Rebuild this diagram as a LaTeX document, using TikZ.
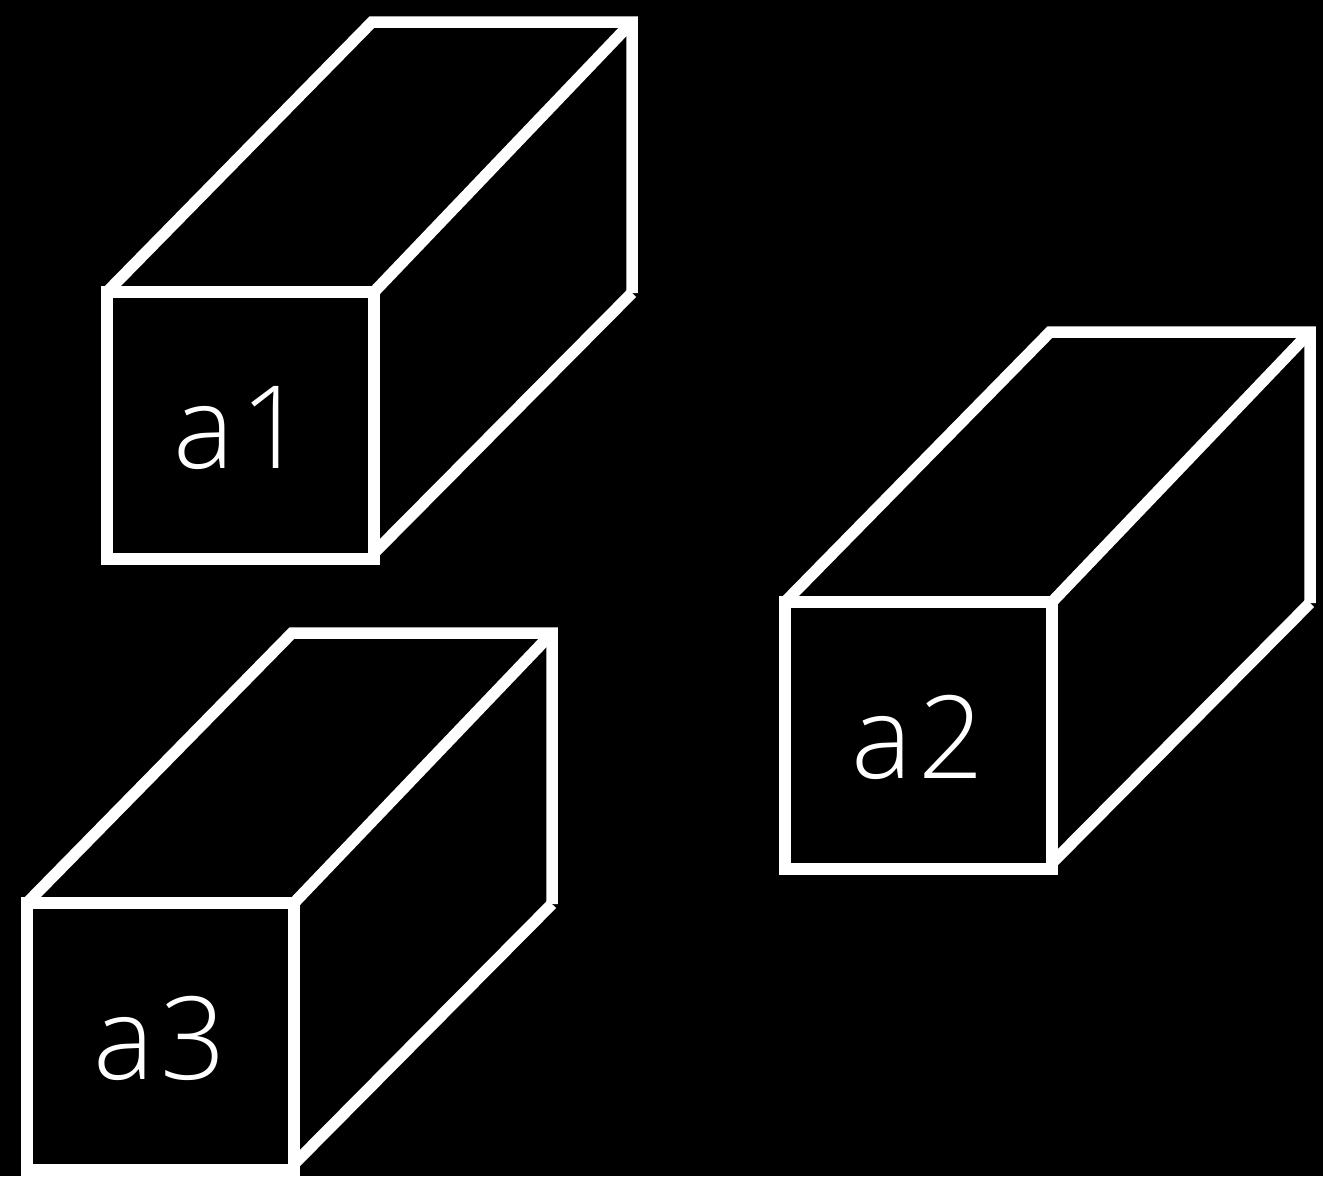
\documentclass[tikz,border=0pt]{standalone}
\usepackage{fontspec}
\IfFontExistsTF{Open Sans Light}{\newfontfamily\labfont[LetterSpace=5]{Open Sans Light}}{%
   \newfontfamily\labfont[LetterSpace=5]{Open Sans}}
\tikzset{
  edge/.style={draw=white, line width=11.5pt, line cap=butt, line join=miter},
  boxlabel/.style={text=white, inner sep=0pt, anchor=base, font=\labfont\fontsize{115}{120}\selectfont}
}
\newcommand\cuboidbox[4]{%
  \begin{scope}[shift={(#2,#3)}]
    \coordinate (#1ftl) at (0,0);
    \coordinate (#1ftr) at (267,0);
    \coordinate (#1fbr) at (267,267);
    \coordinate (#1fbl) at (0,267);
    \coordinate (#1btl) at (265,-270);
    \coordinate (#1btr) at (525,-270);
    \coordinate (#1bbr) at (525,1);
    \coordinate (#1dend) at (267,261);
    \draw[edge] (#1ftl) -- (#1ftr) -- (#1fbr) -- (#1fbl) -- cycle;
    \draw[edge] (#1ftl) -- (#1btl) -- (#1btr) -- (#1bbr);
    \draw[edge] (#1btr) -- (#1ftr);
    \draw[edge] (#1bbr) -- (#1dend);
    \node[boxlabel] (#1lab) at (132.5,176) {#4};
  \end{scope}}
\begin{document}
\begin{tikzpicture}[x=1pt,y=-1pt]
  \fill[black] (0,0) rectangle (1323,1176);
  \useasboundingbox (0,0) rectangle (1323,1176);
  \cuboidbox{a}{107}{292}{a1}
  \cuboidbox{b}{785}{602}{a2}
  \cuboidbox{c}{27}{903}{a3}
\end{tikzpicture}
\end{document}
